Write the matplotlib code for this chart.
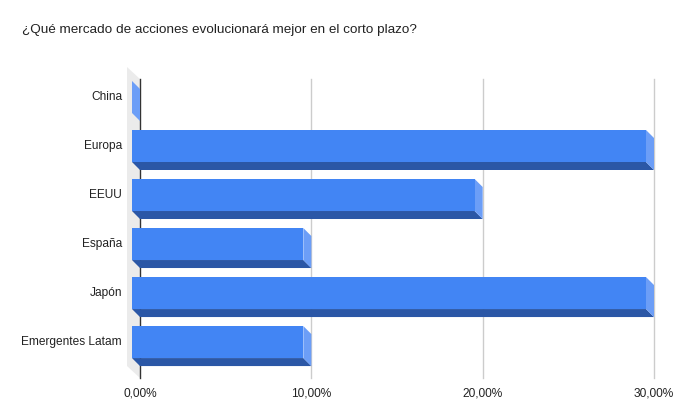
import matplotlib
matplotlib.use('Agg')
import matplotlib.pyplot as plt
from matplotlib.patches import Polygon

# survey answers, share of respondents (%)
categories = ['China', 'Europa', 'EEUU', 'España', 'Japón', 'Emergentes Latam']
values = [0, 30, 20, 10, 30, 10]
ticks = [0, 10, 20, 30]
tick_labels = ['0,00%', '10,00%', '20,00%', '30,00%']
title = '¿Qué mercado de acciones evolucionará mejor en el corto plazo?'

plt.rcParams['font.family'] = ['Liberation Sans', 'DejaVu Sans']

W, H = 676, 420
fig = plt.figure(figsize=(W / 100, H / 100), dpi=100)
ax = fig.add_axes([140 / W, (H - 378) / H, 514 / W, 299 / H])
ax.set_xlim(0, 30)
ax.set_ylim(5.57, -0.53)
ax.axis('off')

# pixel depths -> data units
px_x = 30 / 514
px_y = 6.1 / 299
d = 8                     # bar depth (px)
dx, dy = d * px_x, d * px_y
wx, wy = 13 * px_x, 12 * px_y   # left wall depth
bh = 32 * px_y            # bar thickness

y0, y1 = ax.get_ylim()[1], ax.get_ylim()[0]

# left wall
ax.add_patch(Polygon([(0, y0), (0, y1), (-wx, y1 - wy), (-wx, y0 - wy)],
                     closed=True, facecolor='#ebebeb', edgecolor='none',
                     clip_on=False, zorder=1))

# gridlines
shift = matplotlib.transforms.ScaledTranslation(0, -9 / 100, fig.dpi_scale_trans)
for t, lab in zip(ticks, tick_labels):
    ax.plot([t, t], [y0, y1], color='#333333' if t == 0 else '#cccccc',
            lw=1, zorder=2, clip_on=False)
    ax.text(t, y1, lab, ha='center', va='top', fontsize=8.6, color='#222222',
            transform=ax.transData + shift)

front = '#4285f4'
bottom = '#2b57a6'
side = '#6c9ef7'

for i, (name, v) in enumerate(zip(categories, values)):
    top = i - bh / 2
    bot = i + bh / 2
    # bottom face
    ax.add_patch(Polygon([(-dx, bot - dy), (v - dx, bot - dy), (v, bot), (0, bot)],
                         closed=True, facecolor=bottom, edgecolor='none', zorder=3, clip_on=False))
    # end face
    ax.add_patch(Polygon([(v - dx, top - dy), (v, top), (v, bot), (v - dx, bot - dy)],
                         closed=True, facecolor=side, edgecolor='none', zorder=3, clip_on=False))
    # front face
    if v > 0:
        ax.add_patch(Polygon([(-dx, top - dy), (v - dx, top - dy), (v - dx, bot - dy), (-dx, bot - dy)],
                             closed=True, facecolor=front, edgecolor='none', zorder=4, clip_on=False))
    ax.text(-18 * px_x, i - dy, name, ha='right', va='center', fontsize=8.6, color='#222222')

fig.text(22 / W, 1 - 30 / H, title, ha='left', va='center', fontsize=9.7, color='#222222')

fig.savefig('out.png', dpi=100)
